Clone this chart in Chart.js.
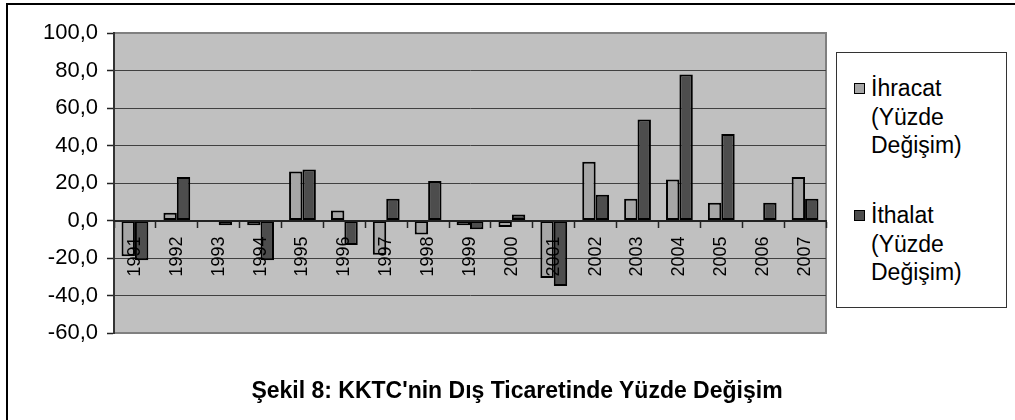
<!DOCTYPE html>
<html>
<head>
<meta charset="utf-8">
<script src="https://cdn.jsdelivr.net/npm/chart.js@4/dist/chart.umd.min.js"></script>
<style>
  html, body { margin: 0; padding: 0; background: #fff; }
  body { width: 1015px; height: 420px; overflow: hidden; position: relative; font-family: "Liberation Sans", Arial, sans-serif; }
  #frame { position: absolute; left: 6px; top: 3px; width: 1100px; height: 500px; border: 2px solid #000; box-sizing: border-box; }
  #c { position: absolute; left: 0; top: 0; }
  #legend { position: absolute; left: 836px; top: 52px; width: 171px; height: 256px; border: 1px solid #333; box-sizing: border-box; background: #fff; }
  .item { position: absolute; left: 34px; font-size: 23px; line-height: 28.5px; color: #000; white-space: pre-line; }
  .mark { position: absolute; left: -17px; top: 9px; width: 9px; height: 9px; border: 1.5px solid #000; }
  #title { position: absolute; left: 217px; width: 600px; top: 376px; text-align: center; font-weight: bold; font-size: 23px; line-height: 28px; color: #000; }
</style>
</head>
<body>
<div id="frame"></div>
<canvas id="c" width="1015" height="420"></canvas>
<div id="legend"></div>
<div id="title">Şekil 8: KKTC'nin Dış Ticaretinde Yüzde Değişim</div>
<script>
// ---- data ----
const categories = ['1991','1992','1993','1994','1995','1996','1997','1998','1999','2000','2001','2002','2003','2004','2005','2006','2007'];
const ihracat = [-19.1, 4.2, null, -2.5, 26.1, 5.3, -18.2, -7.5, -2.5, -3.5, -30.7, 31.4, 11.6, 21.9, 9.5, null, 23.2];
const ithalat = [-21.2, 23.2, -2.5, -21.2, 27.2, -13.0, 11.6, 21.1, -4.6, 3.2, -34.9, 13.7, 53.9, 77.9, 46.1, 9.5, 11.6];
const seriesLabels = ['İhracat (Yüzde Değişim)', 'İthalat (Yüzde Değişim)'];
const seriesColors = ['#a6a6a6', '#4d4d4d'];
const yMin = -60, yMax = 100, yStep = 20;

const plotBg = {
  id: 'plotBg',
  beforeDraw(chart) {
    const {ctx, chartArea: a} = chart;
    ctx.save();
    ctx.fillStyle = '#c0c0c0';
    ctx.fillRect(a.left, a.top, a.right - a.left, a.bottom - a.top);
    ctx.strokeStyle = '#808080';
    ctx.lineWidth = 2;
    ctx.strokeRect(a.left, a.top, a.right - a.left, a.bottom - a.top);
    ctx.restore();
  }
};

const font = "'Liberation Sans', Arial, sans-serif";

const chart = new Chart(document.getElementById('c'), {
  type: 'bar',
  data: {
    labels: categories,
    datasets: [
      { label: seriesLabels[0], data: ihracat, backgroundColor: seriesColors[0], borderColor: '#000', borderWidth: 2, borderSkipped: false },
      { label: seriesLabels[1], data: ithalat, backgroundColor: seriesColors[1], borderColor: '#000', borderWidth: 2, borderSkipped: false }
    ]
  },
  options: {
    responsive: false,
    animation: false,
    devicePixelRatio: 1,
    layout: { padding: { left: 0, top: 33, right: 189, bottom: 87 } },
    datasets: { bar: { categoryPercentage: 0.64, barPercentage: 1.0 } },
    plugins: { legend: { display: false }, title: { display: false }, tooltip: { enabled: false } },
    scales: {
      x: {
        position: { y: 0 },
        offset: true,
        afterFit: (s) => { s.height = 0; },
        grid: { display: true, offset: true, drawOnChartArea: false, drawTicks: true, tickLength: 6, tickColor: '#222', tickWidth: 1.5 },
        border: { display: true, color: '#222', width: 2, z: 1 },
        ticks: { z: 1, autoSkip: false, minRotation: 90, maxRotation: 90, padding: 10, color: '#000', font: { family: font, size: 18 } }
      },
      y: {
        min: yMin, max: yMax,
        afterFit: (s) => { s.width = 114; },
        grid: {
          color: (c) => (c.tick && (c.tick.value === yMax || c.tick.value === yMin)) ? '#808080' : '#404040',
          lineWidth: 1, tickLength: 7, tickColor: '#222', tickWidth: 1.5
        },
        border: { display: true, color: '#333', width: 2 },
        ticks: {
          stepSize: yStep, padding: 9, color: '#000', font: { family: font, size: 22 },
          callback: (v) => Number(v).toFixed(1).replace('.', ',')
        }
      }
    }
  },
  plugins: [plotBg]
});

// HTML legend built from the chart's datasets
const legend = document.getElementById('legend');
chart.data.datasets.forEach((ds, i) => {
  const item = document.createElement('div');
  item.className = 'item';
  item.style.top = (i === 0 ? 21 : 148) + 'px';
  const mark = document.createElement('span');
  mark.className = 'mark';
  mark.style.background = ds.backgroundColor;
  item.appendChild(mark);
  item.appendChild(document.createTextNode(ds.label.replace(/ /g, '\n')));
  legend.appendChild(item);
});
</script>
</body>
</html>
